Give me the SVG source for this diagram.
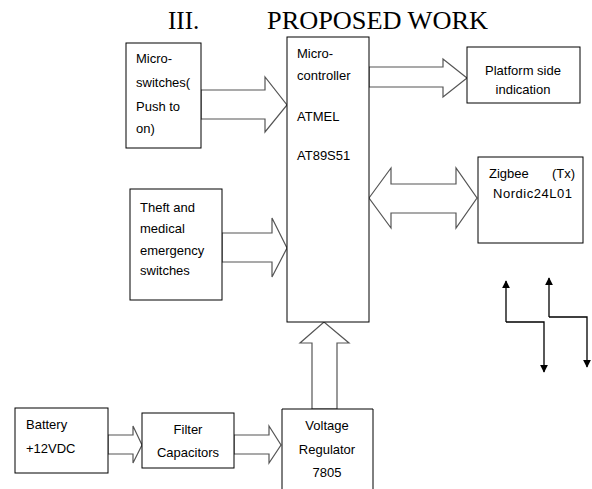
<svg xmlns="http://www.w3.org/2000/svg" width="592" height="489" viewBox="0 0 592 489">
<defs>
<style>
.box{fill:#fff;stroke:#000;stroke-width:1}
.arr{fill:#fff;stroke:#555;stroke-width:1.2;stroke-linejoin:miter}
.t{font-family:"Liberation Sans",Arial,sans-serif;font-size:13px;fill:#000}
.c{text-anchor:middle}
.title{font-family:"Liberation Serif","Times New Roman",serif;font-size:25px;fill:#000}
.ln{fill:none;stroke:#000;stroke-width:1.3}
</style>
<marker id="ah" viewBox="0 0 10 10" refX="9" refY="5" markerWidth="8" markerHeight="8" markerUnits="userSpaceOnUse" orient="auto">
<path d="M0,0 L10,5 L0,10 Z" fill="#000"/>
</marker>
</defs>
<rect width="592" height="489" fill="#fff"/>
<text class="title" x="168" y="29">III.</text>
<text class="title" x="267" y="29" textLength="221" lengthAdjust="spacingAndGlyphs">PROPOSED WORK</text>

<g id="connectors">
<path class="arr" d="M201,90 H265 V77 L287,105 L265,132 V119 H201 Z"/>
<path class="arr" d="M222,233 H272 V218 L287,248 L272,277 V262 H222 Z"/>
<path class="arr" d="M369,67 H443 V59 L467,78 L443,97 V87 H369 Z"/>
<path class="arr" d="M369,198 L391,168 V184 H456 V168 L477,198 L456,228 V213 H391 V228 Z"/>
<path class="arr" d="M312,409 V343 H300 L324,322 L349,343 H337 V409 Z"/>
<path class="arr" d="M108,435 H133 V426 L142,445 L133,463 V454 H108 Z"/>
<path class="arr" d="M234,435 H269 V426 L281,445 L269,463 V454 H234 Z"/>
</g>

<g id="micro-switches">
<rect class="box" x="126" y="43" width="75" height="105"/>
<text class="t" x="136" y="63">Micro-</text>
<text class="t" x="136" y="87">switches(</text>
<text class="t" x="136" y="111">Push to</text>
<text class="t" x="136" y="133">on)</text>
</g>

<g id="theft-switches">
<rect class="box" x="130" y="189" width="92" height="111"/>
<text class="t" x="140" y="212">Theft and</text>
<text class="t" x="140" y="233">medical</text>
<text class="t" x="140" y="255">emergency</text>
<text class="t" x="140" y="275">switches</text>
</g>

<g id="microcontroller">
<rect class="box" x="287" y="37" width="82" height="285"/>
<text class="t" x="297" y="58">Micro-</text>
<text class="t" x="297" y="80">controller</text>
<text class="t" x="297" y="121">ATMEL</text>
<text class="t" x="297" y="160">AT89S51</text>
</g>

<g id="platform">
<rect class="box" x="467" y="47" width="113" height="56"/>
<text class="t c" x="523" y="75">Platform side</text>
<text class="t c" x="523" y="94">indication</text>
</g>

<g id="zigbee">
<rect class="box" x="478" y="157" width="105" height="86"/>
<text class="t" x="489" y="178">Zigbee<tspan x="552">(Tx)</tspan></text>
<text class="t" x="493" y="198" textLength="79" lengthAdjust="spacing">Nordic24L01</text>
</g>

<g id="signal-arrows">
<path class="ln" d="M506,322 V281" marker-end="url(#ah)"/>
<path class="ln" d="M506,322 H544 V372" marker-end="url(#ah)"/>
<path class="ln" d="M549,317 V278" marker-end="url(#ah)"/>
<path class="ln" d="M549,317 H587 V367" marker-end="url(#ah)"/>
</g>

<g id="battery">
<rect class="box" x="15" y="408" width="93" height="65"/>
<text class="t" x="26" y="429">Battery</text>
<text class="t" x="26" y="453">+12VDC</text>
</g>

<g id="filter">
<rect class="box" x="142" y="413" width="92" height="55"/>
<text class="t c" x="188" y="434">Filter</text>
<text class="t c" x="188" y="457">Capacitors</text>
</g>

<g id="regulator">
<path class="box" d="M282,490 V409 H373 V490"/>
<text class="t c" x="327" y="430">Voltage</text>
<text class="t c" x="327" y="454">Regulator</text>
<text class="t c" x="327" y="477">7805</text>
</g>
</svg>
